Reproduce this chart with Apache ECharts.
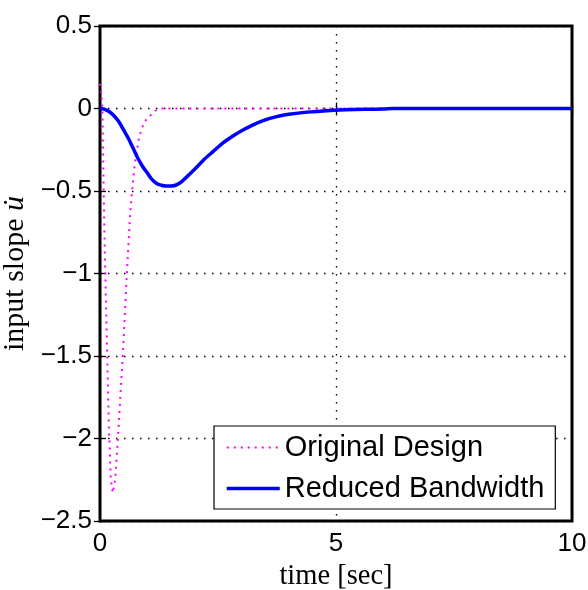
<!DOCTYPE html>
<html>
<head>
<meta charset="utf-8">
<script src="https://cdn.jsdelivr.net/npm/echarts@6/dist/echarts.min.js"></script>
<style>html,body{margin:0;padding:0;background:#fff;}#c{width:588px;height:590px;}</style>
</head>
<body>
<div id="c"></div>
<script>
// Series names
var seriesNames = ['Original Design', 'Reduced Bandwidth'];
// Original design (magenta dotted)
var timeOrig = [0, 0.02, 0.05, 0.085, 0.12, 0.15, 0.19, 0.23, 0.27, 0.32, 0.38, 0.43, 0.49, 0.56, 0.64, 0.69, 0.74, 0.83, 0.94, 1.04, 1.17, 1.3, 2, 3, 4, 5, 6, 7, 8, 9, 10];
var valOrig  = [0.15, 0.12, 0, -0.63, -1.1, -1.46, -1.95, -2.25, -2.33, -2.25, -2.0, -1.75, -1.46, -1.05, -0.63, -0.47, -0.33, -0.17, -0.08, -0.05, -0.013, 0, 0, 0, 0, 0, 0, 0, 0, 0, 0];
// Reduced bandwidth (blue solid)
var timeRed = [0, 0.1, 0.2, 0.3, 0.4, 0.5, 0.6, 0.7, 0.8, 0.9, 1.0, 1.1, 1.2, 1.3, 1.4, 1.5, 1.6, 1.7, 1.8, 2.0, 2.2, 2.4, 2.6, 2.8, 3.0, 3.2, 3.4, 3.6, 3.8, 4.0, 4.4, 4.8, 5.2, 5.6, 6.0, 6.2, 7, 8, 9, 10];
var valRed  = [0, -0.005, -0.02, -0.045, -0.08, -0.13, -0.18, -0.24, -0.30, -0.35, -0.39, -0.43, -0.455, -0.465, -0.47, -0.47, -0.465, -0.45, -0.425, -0.37, -0.31, -0.26, -0.21, -0.17, -0.135, -0.105, -0.08, -0.06, -0.045, -0.035, -0.022, -0.013, -0.008, -0.005, -0.003, 0, 0, 0, 0, 0];
// Axis ticks
var xTicks = [0, 5, 10];
var yTicks = [0.5, 0, -0.5, -1, -1.5, -2, -2.5];

function pairs(t, v) { return t.map(function (x, i) { return [x, v[i]]; }); }
function fmt(v) { return String(v).replace('-', '\u2212'); }

var chart = echarts.init(document.getElementById('c'), null, {renderer: 'canvas'});
var tickFont = {fontFamily: 'Liberation Sans, Arial, sans-serif', fontSize: 26, color: '#000'};
var dotted = {color: '#000', width: 1.3, type: [1.5, 6.5]};
var tickStyle = {show: true, inside: true, length: 6, lineStyle: {color: '#000', width: 1.3}};
var serif = 'Liberation Serif, Times New Roman, serif';

chart.setOption({
  animation: false,
  backgroundColor: '#fff',
  grid: {left: 100, right: 16, top: 26, bottom: 69, show: true, borderColor: '#000', borderWidth: 3,
         backgroundColor: 'transparent', containLabel: false, outerBoundsMode: 'none'},
  xAxis: [{
    type: 'value', min: xTicks[0], max: xTicks[xTicks.length - 1], interval: 5,
    position: 'bottom',
    axisLine: {show: false},
    axisTick: tickStyle,
    axisLabel: Object.assign({margin: 10, formatter: fmt}, tickFont),
    splitLine: {show: true, lineStyle: dotted},
    name: 'time [sec]', nameLocation: 'middle', nameGap: 41,
    nameTextStyle: {fontFamily: serif, fontSize: 28.5, color: '#000'}
  }, {
    type: 'value', min: 0, max: 10, interval: 5, position: 'top',
    axisLine: {show: false},
    axisTick: tickStyle,
    axisLabel: {show: false}, splitLine: {show: false}
  }],
  yAxis: [{
    type: 'value', min: yTicks[yTicks.length - 1], max: yTicks[0], interval: 0.5,
    position: 'left',
    axisLine: {show: false},
    axisTick: tickStyle,
    axisLabel: Object.assign({margin: 8, formatter: fmt}, tickFont),
    splitLine: {show: true, lineStyle: dotted},
    name: '{a|input slope }{b|u\u0307}', nameLocation: 'middle', nameGap: 66, nameRotate: 90,
    nameTextStyle: {
      rich: {
        a: {fontFamily: serif, fontSize: 30, color: '#000'},
        b: {fontFamily: serif, fontSize: 30, fontStyle: 'italic', color: '#000'}
      }
    }
  }, {
    type: 'value', min: -2.5, max: 0.5, interval: 0.5, position: 'right',
    axisLine: {show: false},
    axisTick: tickStyle,
    axisLabel: {show: false}, splitLine: {show: false}
  }],
  legend: {
    show: true, orient: 'vertical', left: 214, top: 426,
    backgroundColor: '#fff', borderColor: '#000', borderWidth: 1.2,
    padding: [6, 11, 5, 11], itemGap: 10, itemWidth: 53, itemHeight: 14,
    itemStyle: {opacity: 0, borderWidth: 0},
    lineStyle: {width: 'inherit'},
    textStyle: {fontFamily: 'Liberation Sans, Arial, sans-serif', fontSize: 29, color: '#000', lineHeight: 31},
    data: seriesNames
  },
  series: [{
    name: seriesNames[0], type: 'line', xAxisIndex: 0, yAxisIndex: 0,
    data: pairs(timeOrig, valOrig), showSymbol: false, symbol: 'none', smooth: false,
    lineStyle: {color: '#ff00ff', width: 2, type: [2, 5]},
    itemStyle: {color: '#ff00ff'}, z: 3
  }, {
    name: seriesNames[1], type: 'line', xAxisIndex: 0, yAxisIndex: 0,
    data: pairs(timeRed, valRed), showSymbol: false, symbol: 'none', smooth: 0.3,
    lineStyle: {color: '#0000ff', width: 3.5},
    itemStyle: {color: '#0000ff'}, z: 4
  }]
});
</script>
</body>
</html>
